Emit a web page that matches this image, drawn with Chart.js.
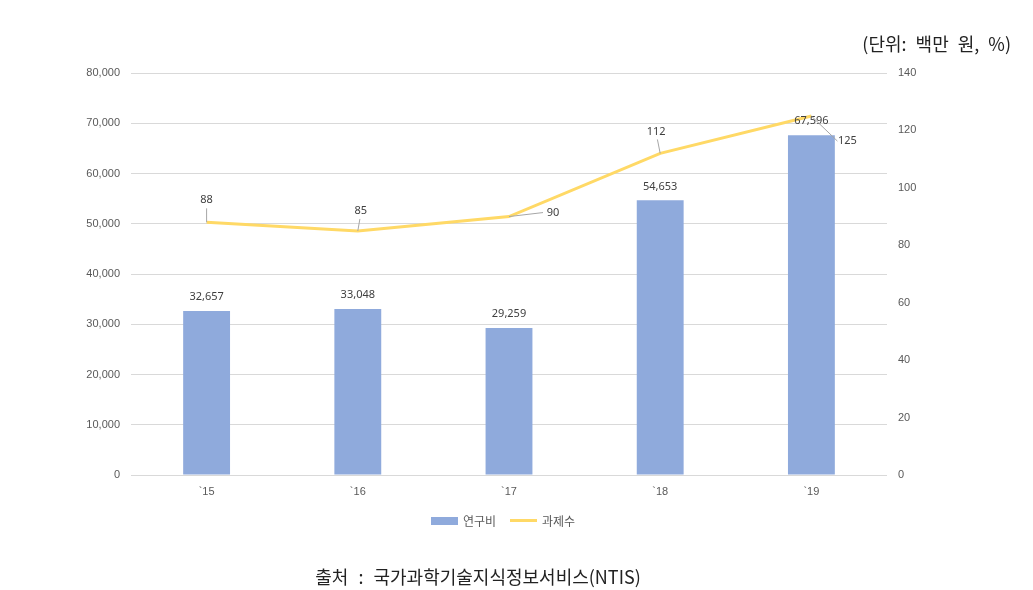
<!DOCTYPE html>
<html>
<head>
<meta charset="utf-8">
<script src="https://cdn.jsdelivr.net/npm/chart.js@4"></script>
<style>
  body { margin: 0; background: #fff; font-family: "Noto Sans CJK KR", "Noto Sans", sans-serif; }
  #wrap { position: relative; width: 1033px; height: 590px; }
  #unit { position: absolute; right: 22px; top: 30px; font-size: 18px; color: #222; word-spacing: 5px; }
  #source { position: absolute; left: 0; width: 956px; top: 563px; text-align: center; font-size: 18px; color: #222; word-spacing: 6px; }
  #legend { position: absolute; left: 0; width: 1006px; top: 510px; text-align: center; font-size: 12px; color: #595959; }
  #legend span { display: inline-block; vertical-align: middle; }
  .sw-bar { width: 27px; height: 8px; background: #8faadc; margin-right: 5px; }
  .sw-line { width: 27px; height: 3px; background: #ffd966; margin: 0 5px 0 14px; }
  canvas { position: absolute; left: 0; top: 0; }
</style>
</head>
<body>
<div id="wrap">
  <canvas id="chart" width="1033" height="590"></canvas>
  <div id="unit">(단위: 백만 원, %)</div>
  <div id="legend"><span class="sw-bar"></span><span>연구비</span><span class="sw-line"></span><span>과제수</span></div>
  <div id="source">출처 : 국가과학기술지식정보서비스(NTIS)</div>
</div>
<script>
const years = ['`15', '`16', '`17', '`18', '`19'];
const funding = [32657, 33048, 29259, 54653, 67596];
const projects = [88, 85, 90, 112, 125];

// label offsets for the line values (dx, dy from the point), leader line drawn to the point
const lineLabelOffsets = [[0, -22], [3, -20], [44, -4], [-4, -22], [36, 25]];

const labelPlugin = {
    id: 'labels',
    afterDatasetsDraw(chart) {
        const c = chart.ctx;
        c.save();
        c.font = '11px "Noto Sans", sans-serif';
        c.fillStyle = '#404040';
        c.textAlign = 'center';
        c.textBaseline = 'middle';

        chart.getDatasetMeta(0).data.forEach((bar, i) => {
            c.fillText(funding[i].toLocaleString('en-US'), bar.x, bar.y - 14);
        });

        chart.getDatasetMeta(1).data.forEach((pt, i) => {
            const [dx, dy] = lineLabelOffsets[i];
            const lx = pt.x + dx, ly = pt.y + dy;
            c.strokeStyle = '#a6a6a6';
            c.lineWidth = 1;
            c.beginPath();
            c.moveTo(pt.x, pt.y);
            if (Math.abs(dx) > 20) {
                c.lineTo(lx - Math.sign(dx) * 10, ly);
            } else {
                c.lineTo(lx + (pt.x - lx) * 0.3, ly + 8);
            }
            c.stroke();
            c.fillText(String(projects[i]), lx, ly);
        });
        c.restore();
    }
};

new Chart(document.getElementById('chart'), {
    data: {
        labels: years,
        datasets: [
            {
                type: 'bar',
                label: '연구비',
                data: funding,
                backgroundColor: '#8faadc',
                yAxisID: 'y',
                barPercentage: 0.31,
                categoryPercentage: 1,
                order: 2
            },
            {
                type: 'line',
                label: '과제수',
                data: projects,
                borderColor: '#ffd966',
                borderWidth: 3,
                pointRadius: 0,
                tension: 0,
                yAxisID: 'y1',
                order: 1
            }
        ]
    },
    options: {
        responsive: false,
        animation: false,
        layout: { padding: { left: 0, right: 0, top: 73, bottom: 0 } },
        plugins: {
            legend: { display: false },
            tooltip: { enabled: false }
        },
        scales: {
            x: {
                grid: { display: false },
                border: { display: false },
                ticks: { color: '#595959', font: { size: 11 }, padding: 2 },
                afterFit: s => { s.height = 115; }
            },
            y: {
                position: 'left',
                min: 0,
                max: 80000,
                ticks: {
                    stepSize: 10000,
                    color: '#595959',
                    font: { size: 11 },
                    padding: 11,
                    callback: v => v.toLocaleString('en-US')
                },
                grid: { color: '#d9d9d9', drawTicks: false },
                border: { display: false },
                afterFit: s => { s.width = 131; }
            },
            y1: {
                position: 'right',
                min: 0,
                max: 140,
                ticks: { stepSize: 20, color: '#595959', font: { size: 11 }, padding: 11 },
                grid: { display: false, drawTicks: false },
                border: { display: false },
                afterFit: s => { s.width = 146; }
            }
        }
    },
    plugins: [labelPlugin]
});
</script>
</body>
</html>
